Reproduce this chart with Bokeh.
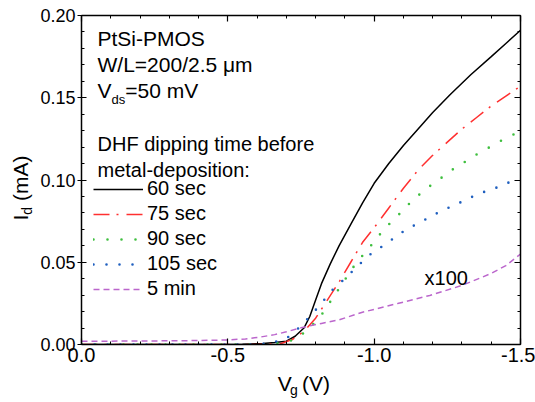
import math
from bokeh.plotting import figure
from bokeh.layouts import row, column
from bokeh.models import (Range1d, LinearAxis, Label, Legend, LegendItem,
                          SingleIntervalTicker, PrintfTickFormatter, CustomJSTickFormatter)
from bokeh.embed import file_html
from bokeh.resources import INLINE

# ---------------- data (Vg in V, Id in mA) ----------------
v_60 = [0.0, -0.30, -0.55, -0.62, -0.66, -0.70, -0.73, -0.76, -0.78, -0.80, -0.82,
        -0.85, -0.88, -0.92, -0.96, -1.00, -1.05, -1.10, -1.16, -1.20, -1.26,
        -1.33, -1.40, -1.45, -1.50]
i_60 = [0.0, 0.0, 0.0002, 0.0006, 0.0012, 0.002, 0.005, 0.010, 0.017, 0.027, 0.037,
        0.049, 0.060, 0.073, 0.086, 0.098, 0.110, 0.121, 0.133, 0.141, 0.152,
        0.164, 0.175, 0.183, 0.191]

v_75 = [0.0, -0.60, -0.68, -0.72, -0.76, -0.80, -0.84, -0.88, -0.92, -0.96, -1.00,
        -1.05, -1.10, -1.15, -1.20, -1.25, -1.30, -1.35, -1.40, -1.45, -1.50]
i_75 = [0.0, 0.0, 0.0005, 0.003, 0.008, 0.016, 0.027, 0.038, 0.050, 0.062, 0.071,
        0.083, 0.095, 0.106, 0.115, 0.123, 0.131, 0.138, 0.145, 0.151, 0.157]

v_90 = [0.0, -0.60, -0.66, -0.70, -0.74, -0.78, -0.82, -0.85, -0.88, -0.91, -0.94,
        -0.98, -1.01, -1.05, -1.09, -1.13, -1.18, -1.22, -1.26, -1.31, -1.35,
        -1.39, -1.44, -1.48, -1.50]
i_90 = [0.0, 0.0, 0.0005, 0.0012, 0.0043, 0.010, 0.018, 0.026, 0.034, 0.042, 0.050,
        0.058, 0.065, 0.073, 0.080, 0.0875, 0.095, 0.100, 0.1055, 0.111, 0.1155,
        0.1195, 0.1245, 0.128, 0.130]

v_105 = [0.0, -0.60, -0.65, -0.70, -0.74, -0.78, -0.82, -0.85, -0.90, -0.94, -0.98,
         -1.03, -1.07, -1.11, -1.16, -1.20, -1.24, -1.29, -1.33, -1.37, -1.42,
         -1.46, -1.50]
i_105 = [0.0, 0.0, 0.001, 0.0036, 0.0097, 0.017, 0.025, 0.032, 0.040, 0.047, 0.054,
         0.060, 0.065, 0.070, 0.0745, 0.0785, 0.082, 0.086, 0.0894, 0.0924, 0.0955,
         0.0985, 0.101]

v_5m = [0.0, -0.20, -0.40, -0.50, -0.56, -0.61, -0.66, -0.70, -0.75, -0.82, -0.88,
        -0.96, -1.08, -1.19, -1.30, -1.40, -1.45, -1.50]
i_5m = [0.0020, 0.0021, 0.0024, 0.0028, 0.0034, 0.0045, 0.006, 0.0077, 0.0102, 0.0128,
        0.015, 0.0196, 0.0249, 0.0298, 0.0359, 0.0432, 0.048, 0.055]

series_labels = ["60 sec", "75 sec", "90 sec", "105 sec", "5 min"]

FONT = "Liberation Sans"

# ---------------- main plot ----------------
p = figure(width=501, height=372, x_range=Range1d(0, -1.5), y_range=Range1d(0, 0.20),
           output_backend="svg", toolbar_location=None,
           min_border_left=47, min_border_right=15, min_border_top=15, min_border_bottom=28)
p.grid.visible = False
p.outline_line_color = None
p.background_fill_color = "white"
p.border_fill_color = "white"


def style_axis(ax, size, major_in, major_out):
    ax.axis_line_color = "black"
    ax.axis_line_width = 1.5
    ax.major_tick_line_color = "black"
    ax.minor_tick_line_color = "black"
    ax.major_tick_line_width = 1.2
    ax.minor_tick_line_width = 1.0
    ax.major_tick_in = major_in
    ax.major_tick_out = major_out
    ax.minor_tick_in = 3
    ax.minor_tick_out = 0
    ax.major_label_text_font = FONT
    ax.major_label_text_color = "black"
    ax.major_label_text_font_size = size


xax = p.xaxis[0]
xax.ticker = SingleIntervalTicker(interval=0.5, num_minor_ticks=5)
xax.formatter = PrintfTickFormatter(format="%.1f")
style_axis(xax, "20px", 6, 0)
xax.major_label_standoff = 3

yax = p.yaxis[0]
yax.ticker = SingleIntervalTicker(interval=0.05, num_minor_ticks=5)
yax.formatter = PrintfTickFormatter(format="%.2f")
style_axis(yax, "18px", 5, 4)
yax.major_label_standoff = 2

blank = CustomJSTickFormatter(code="return ''")
top = LinearAxis(ticker=SingleIntervalTicker(interval=0.5, num_minor_ticks=5), formatter=blank)
style_axis(top, "10px", 6, 0)
top.major_label_standoff = 0
p.add_layout(top, "above")
right = LinearAxis(ticker=SingleIntervalTicker(interval=0.05, num_minor_ticks=5), formatter=blank)
style_axis(right, "10px", 6, 0)
right.major_label_standoff = 0
p.add_layout(right, "right")

r1 = p.line(v_60, i_60, line_color="#000000", line_width=1.5)
r2 = p.line(v_75, i_75, line_color="#ff3030", line_width=1.5, line_dash="16 7 2 8")
r3 = p.line(v_90, i_90, line_color="#3fbf3f", line_width=2.6, line_dash="0 14", line_cap="round")
r4 = p.line(v_105, i_105, line_color="#1f5fbf", line_width=2.6, line_dash="0 13", line_cap="round")
r5 = p.line(v_5m, i_5m, line_color="#bb66cc", line_width=1.5, line_dash="6 4")

legend = Legend(items=[LegendItem(label=series_labels[k], renderers=[r])
                       for k, r in enumerate([r1, r2, r3, r4, r5])],
                location=(12, 44), glyph_width=50, glyph_height=20, label_height=20,
                label_text_font=FONT, label_text_font_size="20px", label_text_color="black",
                label_standoff=4, spacing=2, padding=0, margin=0,
                border_line_color=None, background_fill_alpha=0)
p.add_layout(legend)


def lab(fig, x, y, text, size="20px", angle=0.0):
    fig.add_layout(Label(x=x, y=y, text=text, text_font=FONT, text_font_size=size,
                         text_color="black", text_align="left", text_baseline="alphabetic",
                         angle=angle))


# in-plot texts
lab(p, -0.0547, 0.1861, "PtSi-PMOS", "21px")
lab(p, -0.0547, 0.1703, "W/L=200/2.5 μm", "21px")
lab(p, -0.0547, 0.1545, "V", "21px")
lab(p, -0.1025, 0.1490, "ds", "13px")
lab(p, -0.1493, 0.1545, "=50 mV", "21px")
lab(p, -0.0547, 0.1216, "DHF dipping time before")
lab(p, -0.0547, 0.1058, "metal-deposition:")
lab(p, -1.172, 0.0402, "x100")


def blank_fig(w, h):
    f = figure(width=w, height=h, x_range=Range1d(0, w), y_range=Range1d(0, h),
               output_backend="svg", toolbar_location=None,
               x_axis_location=None, y_axis_location=None,
               min_border=0, min_border_left=0, min_border_right=0,
               min_border_top=0, min_border_bottom=0)
    f.grid.visible = False
    f.outline_line_color = None
    f.background_fill_color = "white"
    f.border_fill_color = "white"
    return f


# y-axis title panel (left)
fy = blank_fig(34, 402)
lab(fy, 20, 182, "I", "21px", angle=math.pi / 2)
lab(fy, 26.5, 187.8, "d", "14px", angle=math.pi / 2)
lab(fy, 20, 201.5, "(mA)", "21px", angle=math.pi / 2)

# x-axis title panel (bottom)
fx = blank_fig(501, 30)
lab(fx, 224, 19, "V", "21px")
lab(fx, 238, 12.7, "g", "14px")
lab(fx, 251.6, 19, "(V)", "21px")

layout = row(fy, column(p, fx, spacing=0), spacing=0)

open("out.html", "w").write(file_html(layout, INLINE))
